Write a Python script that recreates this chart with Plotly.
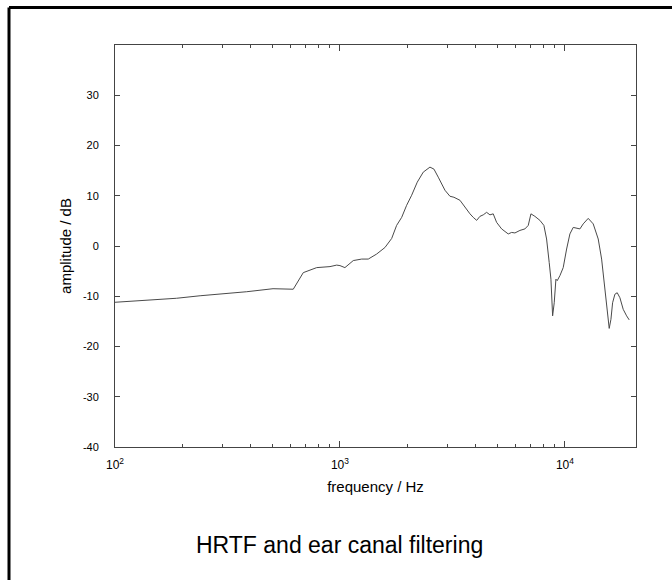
import plotly.graph_objects as go

# Frequency response (Hz, dB) of head-related transfer function including ear canal
freq_hz = [
    100, 138, 188, 239, 334, 385, 504, 610, 620, 687, 788, 903, 967, 1000, 1052,
    1146, 1249, 1336, 1456, 1585, 1698, 1786, 1881, 1979, 2083, 2206, 2346, 2512,
    2617, 2735, 2929, 3083, 3211, 3415, 3594, 3784, 3913, 4052, 4190, 4335, 4487,
    4642, 4800, 4970, 5232, 5412, 5598, 5796, 5995, 6310, 6640, 6870, 7063, 7356,
    7743, 8064, 8290, 8515, 8666, 8818, 8964, 9120, 9244, 9501, 9827, 10176, 10524,
    10887, 11271, 11659, 12060, 12694, 13359, 14061, 14560, 14910, 15218, 15480,
    15736, 16016, 16293, 16681, 17079, 17559, 18161, 18803, 19310,
]
amplitude_db = [
    -11.2, -10.8, -10.4, -9.9, -9.4, -9.1, -8.5, -8.5, -8.6, -5.3, -4.3, -4.1, -3.8, -3.9, -4.3,
    -2.9, -2.6, -2.6, -1.6, -0.3, 1.5, 4.1, 5.7, 8.1, 10.1, 12.7, 14.7, 15.7,
    15.3, 13.7, 11.1, 9.9, 9.7, 9.1, 7.7, 6.4, 5.7, 5.1, 5.9, 6.2, 6.7,
    6.2, 6.4, 4.7, 3.4, 2.9, 2.4, 2.7, 2.6, 3.1, 3.4, 4.1, 6.4, 5.9,
    5.1, 4.1, 1.4, -3.3, -6.6, -13.9, -11.3, -6.6, -6.9, -5.9, -4.3, -0.6, 2.4,
    3.7, 3.5, 3.4, 4.4, 5.5, 4.4, 1.4, -2.6, -6.6, -9.9, -13.3,
    -16.4, -14.6, -11.3, -9.6, -9.3, -10.3, -12.6, -13.9, -14.7,
]

y_ticks = [-40, -30, -20, -10, 0, 10, 20, 30]
y_tick_text = ["-40", "-30", "-20", "-10", "0", "10", "20", "30"]
x_major = [100, 1000, 10000]
x_major_text = ["10<sup>2</sup>", "10<sup>3</sup>", "10<sup>4</sup>"]
x_minor = [200, 300, 400, 500, 600, 700, 800, 900,
           2000, 3000, 4000, 5000, 6000, 7000, 8000, 9000]

FONT = "Liberation Sans, Arial, Helvetica, sans-serif"
AXIS = "#444444"

fig = go.Figure()
fig.add_trace(go.Scatter(
    x=freq_hz, y=amplitude_db, mode="lines",
    line=dict(color="#4a4a4a", width=1),
    showlegend=False, hoverinfo="skip",
))

fig.update_xaxes(
    type="log", range=[2, 4.316],
    tickvals=x_major, ticktext=x_major_text,
    ticks="inside", ticklen=6, tickcolor=AXIS, tickwidth=1,
    minor=dict(tickvals=x_minor, ticks="inside", ticklen=3, tickcolor=AXIS),
    showline=True, linecolor=AXIS, linewidth=1, mirror="ticks",
    showgrid=False, zeroline=False,
    ticklabelstandoff=7,
    tickfont=dict(family=FONT, size=12, color="#000"),
    title=dict(text="frequency / Hz", font=dict(family=FONT, size=15, color="#000"), standoff=10),
)
fig.update_yaxes(
    range=[-40, 40], tickvals=y_ticks, ticktext=y_tick_text,
    ticks="inside", ticklen=5, tickcolor=AXIS, tickwidth=1,
    showline=True, linecolor=AXIS, linewidth=1, mirror="ticks",
    showgrid=False, zeroline=False,
    ticklabelstandoff=13,
    tickfont=dict(family=FONT, size=11, color="#000"),
    title=dict(text="amplitude / dB", font=dict(family=FONT, size=15, color="#000"), standoff=7),
)

# plot area: x 115..636 px, y 45..447 px in a 672x580 page
L, R, T, B = 115, 36, 45, 133
W, H = 672 - L - R, 580 - T - B

def px(x):
    return (x - L) / W

def py(y):
    return (580 - B - y) / H

# outer frame (top and left edges)
fig.add_shape(type="line", xref="paper", yref="paper",
              x0=px(9), x1=px(700), y0=py(7.5), y1=py(7.5),
              line=dict(color="#000", width=3))
fig.add_shape(type="line", xref="paper", yref="paper",
              x0=px(9), x1=px(9), y0=py(7.5), y1=py(620),
              line=dict(color="#000", width=3))

fig.add_annotation(
    text="HRTF and ear canal filtering", xref="paper", yref="paper",
    x=px(339), y=py(545), showarrow=False, xanchor="center", yanchor="middle",
    font=dict(family=FONT, size=23, color="#000"),
)

fig.update_layout(
    width=672, height=580,
    margin=dict(l=L, r=R, t=T, b=B, autoexpand=False),
    paper_bgcolor="white", plot_bgcolor="white",
)

fig.write_html("out.html")
